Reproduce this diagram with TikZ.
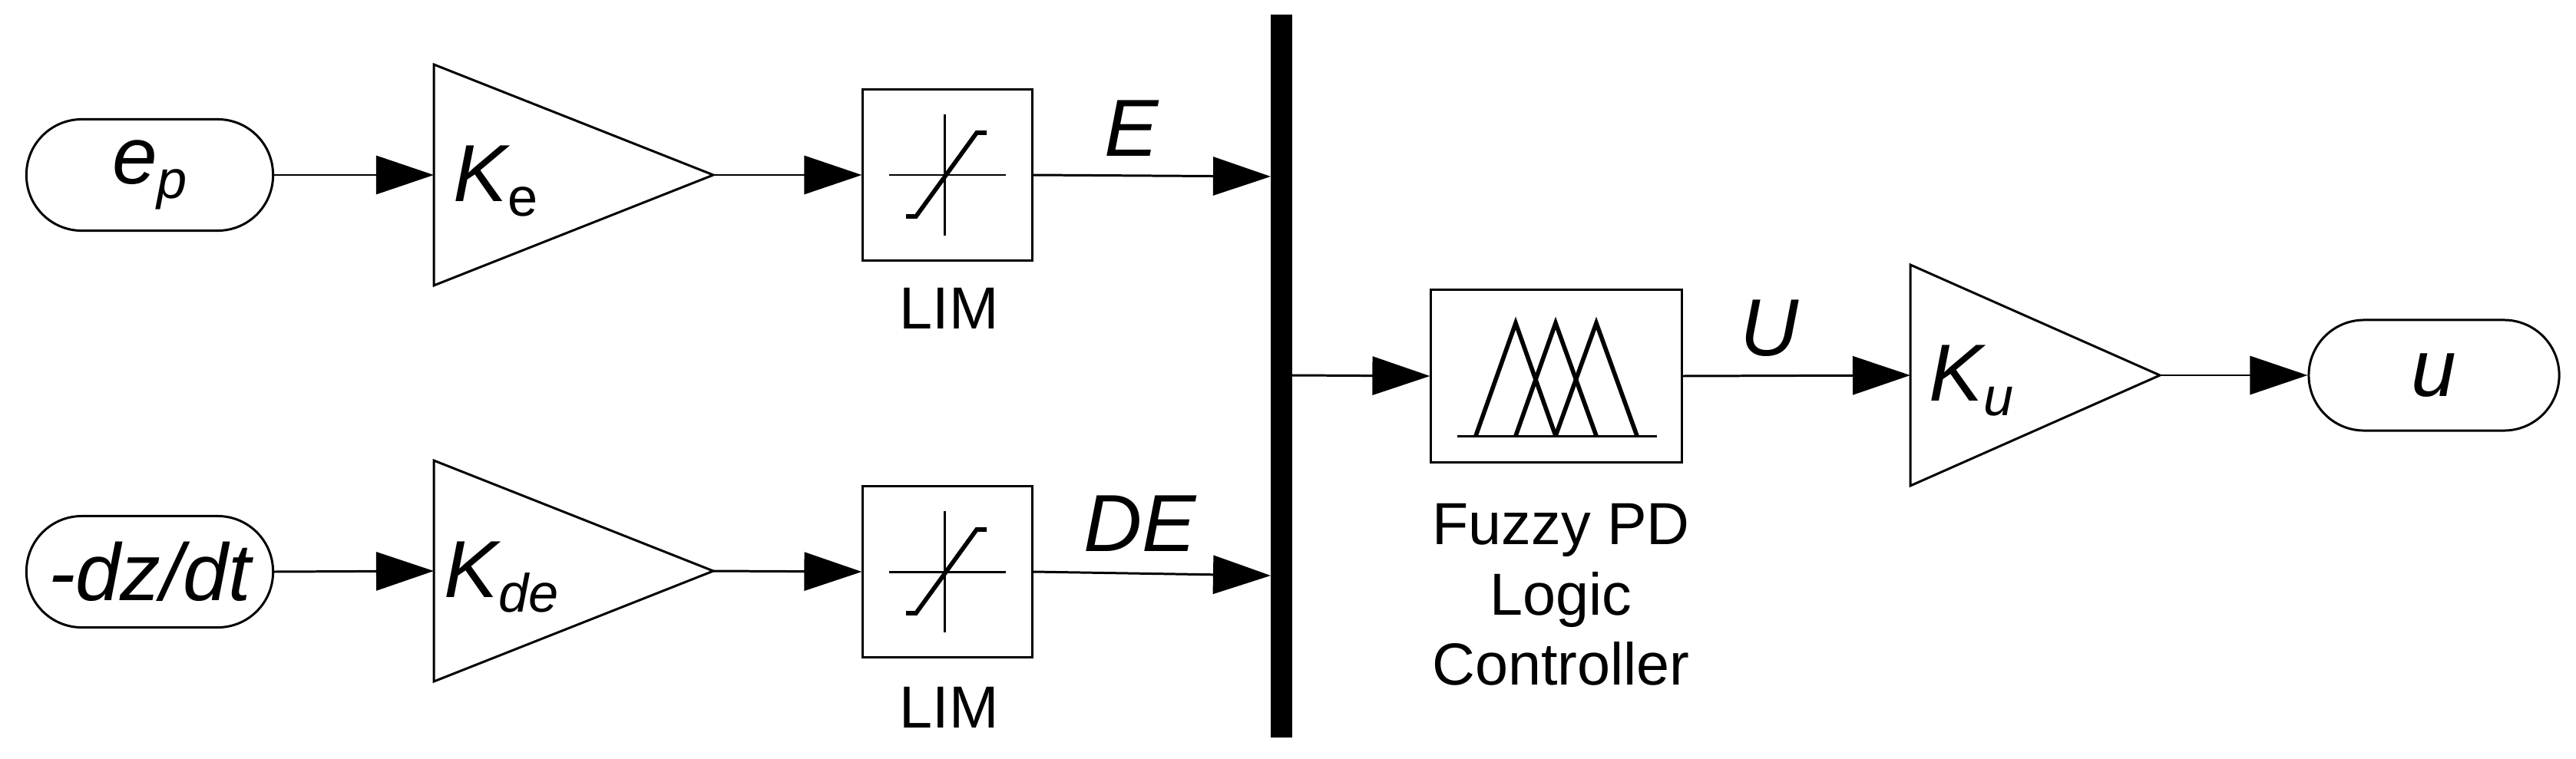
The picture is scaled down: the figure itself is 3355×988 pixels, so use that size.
\documentclass[tikz,border=0pt]{standalone}
\usepackage{fontspec}
\setmainfont{Liberation Sans}
\usetikzlibrary{arrows.meta}
\begin{document}
\begin{tikzpicture}[x=0.01cm,y=-0.01cm,
  ln/.style={line width=0.85pt},
  arr/.style={ln,-{Triangle[length=0.75cm,width=0.5cm]}},
  term/.style={draw,ln,rounded corners=0.72cm,minimum width=3.21cm,minimum height=1.45cm,inner sep=0pt,font=\fontsize{30}{30}\selectfont},
  box/.style={draw,ln,inner sep=0pt},
  big/.style={font=\fontsize{30}{30}\selectfont\itshape,inner sep=0pt},
  small/.style={font=\fontsize{22}{26}\selectfont,inner sep=0pt,align=center}]
\useasboundingbox (0,0) rectangle (3355,988);
% inputs
\node[term] (ep) at (195,228) {\itshape e\raisebox{-0.35ex}{\fontsize{20}{20}\selectfont p}};
\node[term] (dz) at (195,745) {\itshape -dz/dt};
% gains
\draw[ln] (565,84) -- (565,372) -- (929,228) -- cycle;
\coordinate (kein) at (565,228); \coordinate (keout) at (929,228);
\node[big,anchor=base west] (ke) at (590,262) {K\raisebox{-0.35ex}{\fontsize{20}{20}\selectfont\upshape e}};
\draw[ln] (565,600) -- (565,888) -- (929,744) -- cycle;
\coordinate (kdein) at (565,744); \coordinate (kdeout) at (929,744);
\node[big,anchor=base west] (kde) at (578,778) {K\raisebox{-0.35ex}{\fontsize{20}{20}\selectfont de}};
% LIM boxes
\foreach \n/\y in {lima/228,limb/745}{
  \node[box,minimum width=2.2cm,minimum height=2.22cm] (\n) at (1234,\y) {};
  \draw[ln] (1158,\y) -- (1310,\y);
  \draw[ln] (1230,\y-79) -- (1230,\y+79);
  \draw[line width=1.6pt] (1180,\y+54) -- (1193,\y+54) -- (1272,\y-55) -- (1285,\y-55);
}
\node[small] (la) at (1236,402) {LIM};
\node[small] (lb) at (1236,922) {LIM};
% bus
\draw[line width=0.28cm] (1669,19) -- (1669,961);
\coordinate (busE) at (1655,230);
\coordinate (busD) at (1655,750);
\coordinate (busO) at (1683,489);
\node[big] (E) at (1474,167) {E};
\node[big] (DE) at (1485,682) {DE};
% fuzzy
\node[box,minimum width=3.26cm,minimum height=2.24cm] (fz) at (2027,490) {};
\draw[ln] (1898,568) -- (2158,568);
\draw[line width=1.6pt] (1922,568) -- (1974,421) -- (2026,568);
\draw[line width=1.6pt] (1974,568) -- (2026,421) -- (2079,568);
\draw[line width=1.6pt] (2026,568) -- (2079,421) -- (2132,568);
\node[small] (fl) at (2033,775) {Fuzzy PD\\Logic\\Controller};
\node[big] (U) at (2305,428) {U};
% Ku
\draw[ln] (2488,345) -- (2488,633) -- (2813,489) -- cycle;
\coordinate (kuin) at (2488,489); \coordinate (kuout) at (2813,489);
\node[big,anchor=base west] (ku) at (2512,522) {K\raisebox{-0.35ex}{\fontsize{20}{20}\selectfont u}};
\node[term,minimum width=3.26cm,minimum height=1.44cm] (u) at (3170,489) {\itshape u};
% connectors
\draw[arr] (ep.east) -- (kein);
\draw[arr] (keout) -- (lima.west);
\draw[arr] (lima.east) -- (busE);
\draw[arr] (dz.east) -- (kdein);
\draw[arr] (kdeout) -- (limb.west);
\draw[arr] (limb.east) -- (busD);
\draw[arr] (busO) -- (fz.west);
\draw[arr] (fz.east) -- (kuin);
\draw[arr] (kuout) -- (u.west);
\end{tikzpicture}
\end{document}
